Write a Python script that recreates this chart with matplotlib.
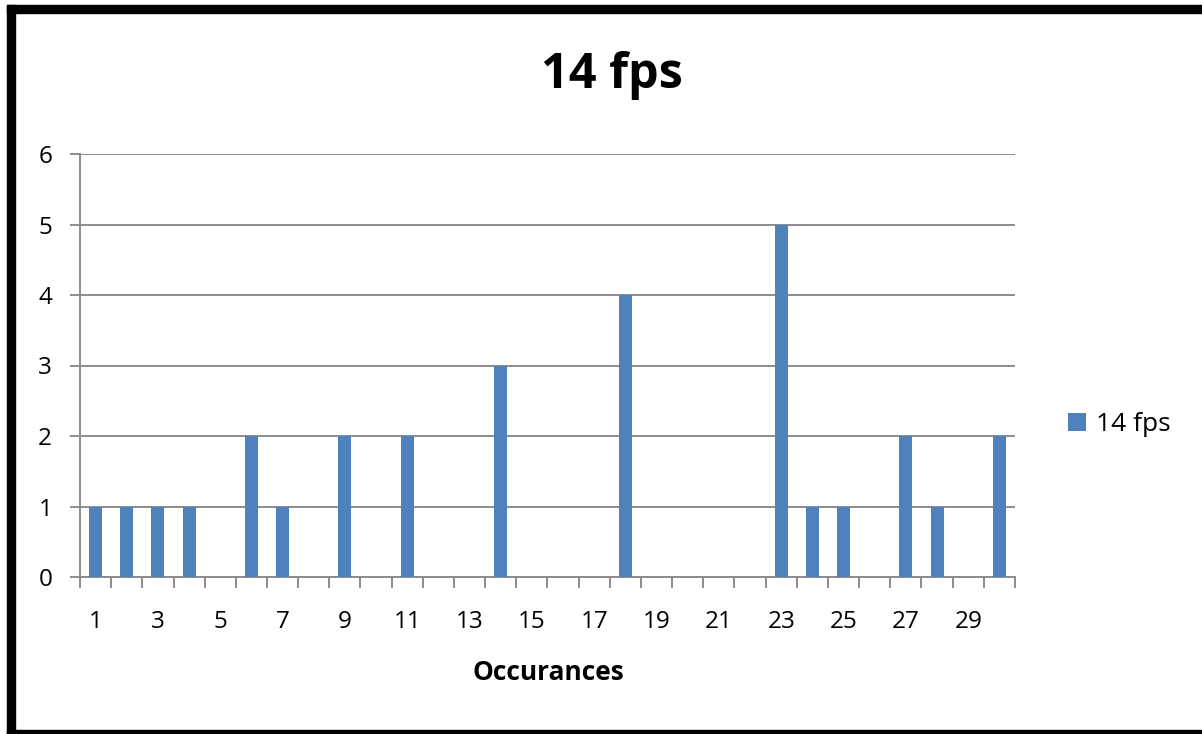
import matplotlib
matplotlib.use("Agg")
import matplotlib.pyplot as plt
from matplotlib.patches import Rectangle

# data
categories = list(range(1, 31))
counts = [1, 1, 1, 1, 0, 2, 1, 0, 2, 0,
          2, 0, 0, 3, 0, 0, 0, 4, 0, 0,
          0, 0, 5, 1, 1, 0, 2, 1, 0, 2]
series_name = "14 fps"
title = "14 fps"
xlabel = "Occurances"
yticks = [0, 1, 2, 3, 4, 5, 6]

plt.rcParams["font.family"] = ["Open Sans", "DejaVu Sans"]

W, H = 1202, 734
fig = plt.figure(figsize=(W / 100, H / 100), dpi=100)
ax = fig.add_axes([80 / W, 1 - 577 / H, (1015 - 80) / W, (577 - 154) / H])

bar_color = "#4F81BD"
grid_color = "#8c8c8c"
pos = list(range(len(categories)))
ax.bar(pos, counts, width=0.42, color=bar_color, label=series_name, zorder=3)

ax.set_xlim(-0.5, len(categories) - 0.5)
ax.set_ylim(0, 6)
ax.set_yticks(yticks)
ax.yaxis.grid(True, color=grid_color, linewidth=1.4, zorder=0)

# category labels every other, tick marks at category boundaries
ax.set_xticks(pos)
ax.set_xticklabels([str(c) if i % 2 == 0 else "" for i, c in enumerate(categories)])
ax.set_xticks([p - 0.5 for p in pos] + [pos[-1] + 0.5], minor=True)
ax.tick_params(axis="x", which="major", length=0, pad=24, labelsize=17.5)
ax.tick_params(axis="x", which="minor", length=8, width=1.4, color=grid_color)
ax.tick_params(axis="y", length=7, width=1.4, color=grid_color, pad=13, labelsize=17.5)

for side in ["top", "right"]:
    ax.spines[side].set_visible(False)
for side in ["left", "bottom"]:
    ax.spines[side].set_color(grid_color)
    ax.spines[side].set_linewidth(1.4)

fig.text(612 / W, 1 - 76 / H, title, ha="center", va="center",
         fontsize=35, fontweight="bold")
fig.text(548 / W, 1 - 672 / H, xlabel, ha="center", va="center",
         fontsize=19, fontweight="bold")

ax.legend(loc="center left", bbox_to_anchor=(1068 / W, 1 - 425 / H),
          bbox_transform=fig.transFigure, frameon=False, fontsize=19,
          handlelength=0.7, handleheight=0.7, handletextpad=0.35,
          borderpad=0, borderaxespad=0)

# black frame as in the screenshot
fig.patches.append(Rectangle((7 / W, 0), 8 / W, 1 - 5 / H, transform=fig.transFigure,
                             color="black", zorder=10))
fig.patches.append(Rectangle((7 / W, 1 - 13 / H), 1 - 7 / W, 8 / H,
                             transform=fig.transFigure, color="black", zorder=10))
fig.patches.append(Rectangle((7 / W, 0), 1 - 7 / W, 4 / H, transform=fig.transFigure,
                             color="black", zorder=10))

fig.savefig("out.png", dpi=100)
